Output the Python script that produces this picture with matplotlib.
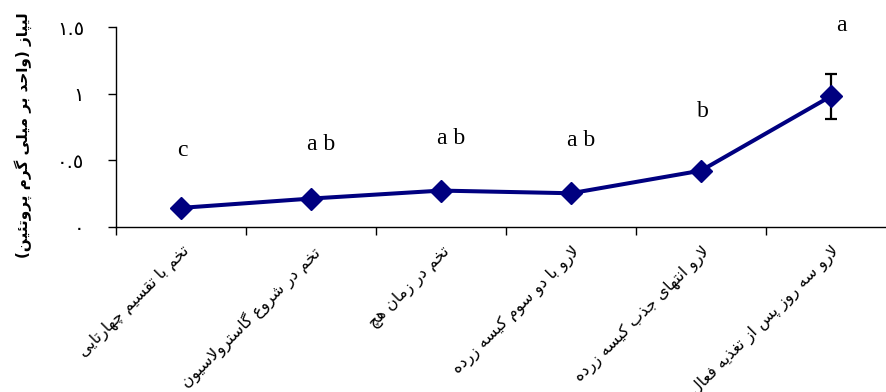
import matplotlib
matplotlib.use("Agg")
import matplotlib.pyplot as plt

# stages (left to right), lipase activity, error and letter groups
stages = [
    "تخم با تقسیم چهارتایی",
    "تخم در شروع گاسترولاسیون",
    "تخم در زمان هچ",
    "لارو با دو سوم کیسه زرده",
    "لارو انتهای جذب کیسه زرده",
    "لارو سه روز پس از تغذیه فعال",
]
lipase = [0.14, 0.21, 0.27, 0.25, 0.42, 0.98]
lipase_err = [0, 0, 0, 0, 0, 0.17]
groups = ["c", "ab", "ab", "ab", "b", "a"]
group_y = [0.575, 0.613, 0.658, 0.650, 0.868, 1.508]
yticks = [0, 0.5, 1, 1.5]
ytick_labels = ["٠", "٠.٥", "١", "١.٥"]
ylabel = "لیپاز (واحد بر میلی گرم پروتئین)"

# minimal arabic/persian shaping: (isolated, final, initial, medial)
FORMS = {
    'ا': ('\uFE8D', '\uFE8E', None, None),
    'ب': ('\uFE8F', '\uFE90', '\uFE91', '\uFE92'),
    'پ': ('\uFB56', '\uFB57', '\uFB58', '\uFB59'),
    'ت': ('\uFE95', '\uFE96', '\uFE97', '\uFE98'),
    'ج': ('\uFE9D', '\uFE9E', '\uFE9F', '\uFEA0'),
    'چ': ('\uFB7A', '\uFB7B', '\uFB7C', '\uFB7D'),
    'ح': ('\uFEA1', '\uFEA2', '\uFEA3', '\uFEA4'),
    'خ': ('\uFEA5', '\uFEA6', '\uFEA7', '\uFEA8'),
    'د': ('\uFEA9', '\uFEAA', None, None),
    'ذ': ('\uFEAB', '\uFEAC', None, None),
    'ر': ('\uFEAD', '\uFEAE', None, None),
    'ز': ('\uFEAF', '\uFEB0', None, None),
    'س': ('\uFEB1', '\uFEB2', '\uFEB3', '\uFEB4'),
    'ش': ('\uFEB5', '\uFEB6', '\uFEB7', '\uFEB8'),
    'ع': ('\uFEC9', '\uFECA', '\uFECB', '\uFECC'),
    'غ': ('\uFECD', '\uFECE', '\uFECF', '\uFED0'),
    'ف': ('\uFED1', '\uFED2', '\uFED3', '\uFED4'),
    'ق': ('\uFED5', '\uFED6', '\uFED7', '\uFED8'),
    'ک': ('\uFB8E', '\uFB8F', '\uFB90', '\uFB91'),
    'گ': ('\uFB92', '\uFB93', '\uFB94', '\uFB95'),
    'ل': ('\uFEDD', '\uFEDE', '\uFEDF', '\uFEE0'),
    'م': ('\uFEE1', '\uFEE2', '\uFEE3', '\uFEE4'),
    'ن': ('\uFEE5', '\uFEE6', '\uFEE7', '\uFEE8'),
    'ه': ('\uFEE9', '\uFEEA', '\uFEEB', '\uFEEC'),
    'و': ('\uFEED', '\uFEEE', None, None),
    'ی': ('\uFBFC', '\uFBFD', '\uFBFE', '\uFBFF'),
    'ئ': ('\uFE89', '\uFE8A', '\uFE8B', '\uFE8C'),
}


def joins_next(ch):
    return ch in FORMS and FORMS[ch][2] is not None


def shape(txt):
    res = []
    i = 0
    n = len(txt)
    while i < n:
        ch = txt[i]
        prev = txt[i - 1] if i > 0 else ''
        nxt = txt[i + 1] if i + 1 < n else ''
        if ch not in FORMS:
            res.append(ch)
            i += 1
            continue
        jp = joins_next(prev)
        if ch == 'ل' and nxt == 'ا':
            res.append('\uFEFC' if jp else '\uFEFB')
            i += 2
            continue
        jn = joins_next(ch) and nxt in FORMS
        f = FORMS[ch]
        if jp and jn:
            res.append(f[3])
        elif jp:
            res.append(f[1])
        elif jn:
            res.append(f[2])
        else:
            res.append(f[0])
        i += 1
    out = ''.join(reversed(res))
    return out.translate(str.maketrans('()', ')('))


fig = plt.figure(figsize=(8.87, 3.92), dpi=100)
ax = fig.add_axes([116 / 887, 165.5 / 392, 780 / 887, 199.5 / 392])

x = list(range(len(stages)))
ax.errorbar(x, lipase, yerr=lipase_err, fmt='none', ecolor='black',
            elinewidth=1.6, capsize=4, capthick=1.6, zorder=2)
ax.plot(x, lipase, color='#000080', lw=2.9, marker='D', ms=11,
        mec='#000080', mfc='#000080', zorder=3)

for xi, g, gy in zip(x, groups, group_y):
    dx = 0.04 if g == "a" else -0.03
    ax.text(xi + dx, gy, " ".join(g), ha='left', va='center', fontsize=17,
            family='Liberation Serif', color='black')

ax.set_xlim(-0.5, len(stages) - 0.5)
ax.set_ylim(0, 1.5)
ax.set_xticks([i - 0.5 for i in range(len(stages) + 1)])
ax.set_xticklabels([])
ax.set_xticks(x, minor=True)
ax.set_xticklabels([shape(s) for s in stages], minor=True, rotation=45,
                   ha='right', va='top', rotation_mode='anchor', fontsize=11.5)
ax.tick_params(axis='x', which='major', direction='out', length=6, width=1)
ax.tick_params(axis='x', which='minor', length=0, pad=12)
ax.set_yticks(yticks)
ax.set_yticklabels(ytick_labels, fontsize=14)
ax.tick_params(axis='y', direction='out', length=6, width=1, pad=17)

for side in ['top', 'right']:
    ax.spines[side].set_visible(False)
for side in ['left', 'bottom']:
    ax.spines[side].set_linewidth(1)
    ax.spines[side].set_clip_on(False)

fig.text(23 / 887, 1 - 135 / 392, shape(ylabel), rotation=90, ha='center',
         va='center', fontsize=11, fontweight='bold')

fig.savefig('out.png', dpi=100)
